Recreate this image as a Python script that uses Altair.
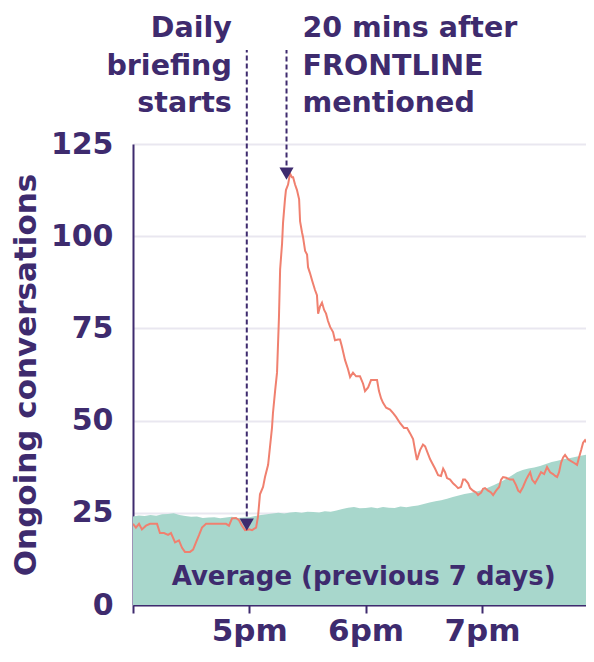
import altair as alt
import pandas as pd

# ---- data -------------------------------------------------------------
# minutes after 4pm
actual_t = [0, 1.5, 3.1, 4.6, 6.7, 8.8, 10.8, 12.4, 13.9, 16.0, 18.1, 19.6, 21.7, 23.7, 25.3,
            26.8, 29.4, 31.0, 32.5, 34.1, 35.6, 37.7, 39.7, 41.8, 43.9, 45.9, 48.0, 49.5, 51.1,
            53.1, 54.7, 56.2, 57.8, 59.9, 61.4, 63.5, 64.5, 65.5, 67.1, 68.1, 69.7, 70.7, 71.7,
            72.2, 73.3, 74.3, 75.3, 75.9, 76.9, 77.4, 78.4, 78.9, 80.0, 81.0, 82.0, 82.6, 83.6,
            84.6, 85.7, 86.2, 87.2, 87.7, 88.8, 89.8, 90.3, 91.3, 92.4, 93.9, 94.9, 95.5, 96.5,
            97.5, 98.6, 99.6, 100.6, 101.7, 103.2, 104.2, 105.8, 106.8, 107.8, 109.4, 110.9,
            112.0, 113.5, 115.1, 117.1, 118.7, 119.7, 121.3, 122.8, 124.4, 125.9, 126.9, 128.0,
            129.0, 130.6, 132.6, 134.2, 135.7, 137.8, 139.8, 141.4, 142.9, 144.5, 145.5, 146.5,
            148.1, 149.6, 150.7, 152.2, 153.3, 154.3, 155.8, 157.4, 158.9, 160.0, 161.0, 162.0,
            163.6, 165.1, 166.2, 167.7, 169.2, 170.3, 171.3, 172.9, 173.9, 175.4, 177.0, 178.0,
            179.6, 180.6, 181.6, 183.2, 184.7, 185.8, 187.3, 188.9, 189.9, 190.9, 192.5, 194.5,
            196.1, 197.6, 198.7, 199.7, 201.2, 202.8, 203.8, 204.9, 205.9, 207.4, 209.0, 210.5,
            212.1, 213.6, 215.2, 216.7, 217.8, 218.8, 219.8, 220.8, 221.9, 222.9, 224.5, 226.0,
            227.6, 229.1, 230.1, 231.2, 232.2, 233.2, 234.8, 235.8, 236.8, 237.9]
actual_v = [22, 21, 22, 20.5, 21.5, 22, 22, 22, 19.5, 19.5, 19, 19.5, 17, 17.5, 15.5,
            14.4, 14.4, 15, 17, 19, 21, 22, 22, 22, 22, 22, 22, 21.5, 23.5,
            23.6, 23, 21.5, 20.3, 20.5, 20.3, 21, 24, 30, 32, 34.7, 38, 43, 48,
            52, 58, 63, 78, 91, 98, 103.6, 110, 112.5, 114, 117, 116, 116, 114,
            112.5, 110, 104, 101, 99.8, 96, 95, 91.6, 90, 88, 85.4, 84, 79, 81,
            82, 80, 79, 77, 75.4, 74, 71.8, 72, 72, 70, 66.4, 64,
            61.8, 63, 62, 62, 60, 58, 59, 61, 61, 61, 58, 56,
            54.8, 53.5, 53, 52, 51, 49.3, 48, 48, 46.6, 45, 42, 39.3,
            42, 43.5, 43, 41, 39.5, 38.5, 37, 35.2, 35, 37, 36, 34.4,
            34, 33, 32.5, 31.7, 32, 34, 34, 33, 31.7, 31, 30.5, 29.8,
            30.5, 31.5, 31.7, 31, 30.5, 29.8, 31, 32, 34, 34.7, 34.5, 34,
            34, 32.5, 31, 30.6, 32, 34, 35, 36, 34, 33, 34.5, 36,
            35.5, 37.4, 36, 35.5, 35, 34.7, 36, 38.5, 40, 40.7, 39.5, 39,
            38.5, 38, 40, 42, 44, 44.7, 43.5, 43.4, 45, 45.8]

avg_t = list(range(0, 240, 3))
avg_v = [24.0, 24.3, 24.1, 24.4, 24.2, 24.6, 24.7, 24.9, 24.4, 24.1, 23.9, 24.0, 23.6, 23.7,
         23.8, 23.5, 23.7, 23.9, 23.6, 23.7, 23.8, 24.1, 24.4, 24.6, 24.8, 25.0, 24.8, 25.1,
         25.2, 25.0, 25.3, 25.2, 25.1, 25.4, 25.3, 25.6, 26.0, 26.4, 26.6, 26.2, 26.3, 26.5,
         26.2, 26.6, 26.4, 26.3, 26.7, 26.5, 26.8, 27.0, 27.4, 27.8, 28.1, 28.4, 28.8, 29.3,
         29.7, 30.1, 30.4, 30.7, 31.2, 31.8, 32.5, 33.2, 34.0, 35.0, 36.0, 36.6, 37.0, 37.3,
         37.7, 38.2, 38.8, 39.1, 39.5, 39.8, 40.1, 40.5, 40.8, 41.2]

tick_minutes = [60, 120, 180]
tick_labels = ["5pm", "6pm", "7pm"]
y_ticks = [0, 25, 50, 75, 100, 125]

ann_t = [58.7, 79.2]
ann_v = [21.8, 117.0]
ann_text = ["Daily\nbriefing\nstarts", "20 mins after\nFRONTLINE\nmentioned"]

avg_label = "Average (previous 7 days)"
avg_label_t = 119
avg_label_v = 5.4

# ---- style ------------------------------------------------------------
PURPLE = "#3e2b6e"
RED = "#f0806f"
GREEN = "#a8d7cc"
FONT = "DejaVu Sans"

actual = pd.DataFrame({"t": actual_t, "v": actual_v})
avg = pd.DataFrame({"t": avg_t, "v": avg_v})
ann = pd.DataFrame({"t": ann_t, "v": ann_v, "text": ann_text})
lab = pd.DataFrame({"t": [avg_label_t], "v": [avg_label_v], "text": [avg_label]})

label_expr = " : ".join(
    [f"datum.value == {m} ? '{l}'" for m, l in zip(tick_minutes, tick_labels)]
) + " : ''"

x = alt.X(
    "t:Q",
    scale=alt.Scale(domain=[0, 233.7], nice=False, zero=False),
    axis=alt.Axis(
        values=[0] + tick_minutes, labelExpr=label_expr, title=None, grid=False,
        domainColor=PURPLE, domainWidth=2, tickColor=PURPLE, tickWidth=2, tickSize=8,
        labelFont=FONT, labelFontSize=31, labelFontWeight="bold", labelColor=PURPLE,
        labelBaseline="alphabetic", labelPadding=27,
    ),
)
y = alt.Y(
    "v:Q",
    scale=alt.Scale(domain=[0, 125], nice=False),
    axis=alt.Axis(
        values=y_ticks, title="Ongoing conversations", grid=True, gridColor="#e9e7f0",
        gridWidth=2, ticks=False, domainColor=PURPLE, domainWidth=2,
        labelFont=FONT, labelFontSize=30, labelFontWeight="bold", labelColor=PURPLE,
        labelPadding=20, titleFont=FONT, titleFontSize=31, titleFontWeight="bold",
        titleColor=PURPLE, titlePadding=8,
    ),
)

area = alt.Chart(avg).mark_area(color=GREEN, opacity=1, clip=True).encode(x=x, y=y)
line = alt.Chart(actual).mark_line(color=RED, strokeWidth=2, clip=True).encode(x="t:Q", y="v:Q")

rules = alt.Chart(ann).mark_rule(
    color=PURPLE, strokeWidth=2, strokeDash=[5, 3]
).encode(x="t:Q", y="v:Q", y2=alt.value(-94))

tri = alt.Chart(ann).mark_point(
    shape="triangle-down", filled=True, color=PURPLE, opacity=1, size=200
).encode(x="t:Q", y="v:Q")

txt1 = alt.Chart(ann.iloc[[0]]).mark_text(
    align="right", baseline="alphabetic", dx=-15, lineBreak="\n", lineHeight=37.5,
    font=FONT, fontSize=28.5, fontWeight="bold", color=PURPLE,
).encode(x="t:Q", y=alt.value(-107), text="text:N")

txt2 = alt.Chart(ann.iloc[[1]]).mark_text(
    align="left", baseline="alphabetic", dx=16, lineBreak="\n", lineHeight=37.5,
    font=FONT, fontSize=28.5, fontWeight="bold", color=PURPLE,
).encode(x="t:Q", y=alt.value(-107), text="text:N")

avg_txt = alt.Chart(lab).mark_text(
    align="center", baseline="alphabetic", font=FONT, fontSize=26, fontWeight="bold",
    color=PURPLE,
).encode(x="t:Q", y="v:Q", text="text:N")

chart = (
    alt.layer(area, line, rules, tri, txt1, txt2, avg_txt)
    .properties(
        width=453, height=461,
        autosize=alt.AutoSizeParams(type="none"),
        padding={"left": 125, "top": 136, "right": 0, "bottom": 44},
    )
    .configure_view(stroke=None)
)

chart.save("out.html", embed_options={"renderer": "svg", "actions": False})
